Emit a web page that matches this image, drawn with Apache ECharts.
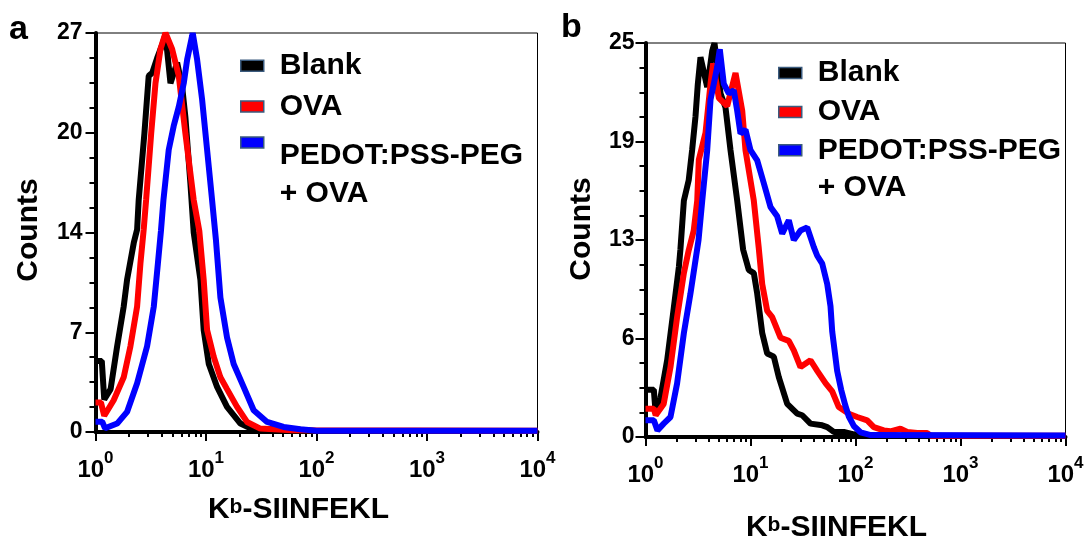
<!DOCTYPE html>
<html><head><meta charset="utf-8">
<script src="https://cdn.jsdelivr.net/npm/echarts@6/dist/echarts.min.js"></script>
<style>html,body{margin:0;padding:0;background:#fff}#c{width:1086px;height:542px}</style>
</head><body><div id="c"></div>
<script>
// ---------- data ----------
const seriesNames = ['Blank', 'OVA', 'PEDOT:PSS-PEG\n+ OVA'];
const seriesColors = ['#000000', '#ff0000', '#0000ff'];

// Panel a: [K^b-SIINFEKL intensity, counts]
const blankA = [[1.0,4.8],[1.14,4.8],[1.2,2.2],[1.37,2.9],[1.57,5.8],[1.80,8.5],[1.93,10.3],[2.22,12.8],[2.38,13.7],[2.46,15.7],[2.77,20.2],[3.03,24.1],[3.26,24.3],[3.61,25.3],[4.06,26.3],[4.30,26.9],[4.77,23.6],[5.48,25.0],[6.08,23.4],[6.51,21.3],[7.23,16.8],[7.74,13.5],[8.90,10.3],[9.53,6.9],[10.6,4.6],[12.6,3.05],[15.5,1.7],[20.5,0.57],[27,0.15],[40,0.2],[70,0.15],[100,0.06],[10000,0.06]];
const ovaA = [[1.0,2.0],[1.12,2.0],[1.2,1.1],[1.46,2.15],[1.80,3.7],[2.07,5.8],[2.38,8.5],[2.55,11.4],[2.73,13.7],[2.87,15.7],[3.19,20.2],[3.49,23.6],[3.87,25.9],[4.30,27.0],[4.94,25.9],[5.67,24.1],[6.51,20.2],[7.74,15.7],[8.7,13.6],[9.53,10.3],[10.23,6.9],[11.74,5.1],[13.5,3.7],[15.5,2.9],[19.1,1.7],[23.5,0.68],[31,0.23],[60,0.12],[10000,0.08]];
const pedotA = [[1.0,0.7],[1.15,0.7],[1.22,0.25],[1.57,0.57],[1.93,1.36],[2.38,3.3],[2.93,5.8],[3.37,8.5],[3.67,11.4],[3.91,13.6],[4.12,15.7],[4.6,19.1],[5.1,20.7],[5.67,22.0],[6.29,23.6],[6.75,25.2],[7.49,26.8],[7.58,27.0],[8.31,25.2],[9.22,22.5],[10.23,19.1],[11.35,15.7],[12.3,13.0],[13.5,9.1],[15.5,6.4],[17.8,4.6],[21.9,3.05],[27.0,1.47],[35.7,0.68],[50.4,0.34],[71.4,0.18],[100,0.08],[10000,0.08]];

// Panel b
const blankB = [[1.0,3.0],[1.2,3.0],[1.25,1.5],[1.39,2.5],[1.61,4.9],[1.86,8.2],[2.08,10.8],[2.15,11.9],[2.32,15.0],[2.58,16.3],[2.78,18.2],[2.99,20.3],[3.15,22.4],[3.34,24.1],[3.47,24.2],[3.87,22.2],[4.32,24.5],[4.54,25.0],[5.18,21.8],[5.78,20.9],[6.45,18.2],[7.47,15.0],[8.5,11.9],[9.63,10.6],[10.75,10.4],[11.58,9.1],[12.93,6.6],[14.42,5.3],[16.67,5.1],[18.6,3.8],[22.37,2.1],[27.85,1.48],[31.08,1.38],[37.27,0.85],[48.2,0.74],[53.8,0.63],[62.1,0.32],[77.4,0.32],[96.3,0.17],[130,0.06],[10000,0.06]];
const ovaB = [[1.0,1.8],[1.2,1.8],[1.25,1.38],[1.49,2.1],[1.73,4.44],[2.0,7.6],[2.32,10.4],[2.58,11.85],[2.88,13.1],[3.11,15.0],[3.22,17.6],[3.73,19.3],[4.16,22.4],[4.41,23.7],[5.0,21.5],[6.0,21.0],[7.2,23.1],[8.34,20.7],[8.96,18.2],[10.75,15.0],[12.0,11.95],[12.93,9.7],[14.42,8.0],[16.09,7.6],[19.31,6.3],[23.16,6.1],[25.85,5.5],[29.94,4.44],[37.27,4.87],[43.2,4.2],[52,3.4],[60,2.9],[69.3,1.9],[86.4,1.48],[103.8,1.27],[129.2,1.06],[149.4,0.63],[186,0.42],[215,0.36],[268,0.53],[311,0.32],[387,0.25],[482,0.25],[520,0.08],[10000,0.08]];
const pedotB = [[1.0,1.06],[1.2,1.06],[1.3,0.42],[1.49,0.85],[1.73,1.27],[2.0,3.4],[2.32,6.6],[2.68,9.1],[2.99,11.2],[3.2,12.5],[3.47,15.0],[3.87,18.2],[4.16,21.4],[4.47,22.4],[4.82,23.5],[5.10,24.6],[5.57,22.4],[6.21,21.8],[6.93,22.0],[7.47,20.7],[8.03,19.25],[8.96,19.5],[10.0,18.2],[11.58,17.55],[13.39,16.1],[15.5,14.6],[17.96,14.0],[20.04,12.9],[23.16,13.75],[25.85,12.5],[29.94,13.1],[34.67,13.3],[40.09,12.05],[43.2,11.5],[48.2,11.0],[53.8,9.7],[57.8,8.3],[60.0,6.7],[66.9,4.2],[73,3.0],[80,2.0],[86.4,1.3],[96.3,0.7],[111.6,0.3],[140,0.12],[10000,0.1]];

// axes
const xRange = [1, 10000];
const yMaxA = 27, yIntervalA = 6.75;
const yMaxB = 25, yIntervalB = 6.25;
// minor ticks of the log axis (log10 of 2..9 in each decade)
const xMinorTicks = [];
for (let d = 0; d < 4; d++) for (let k = 2; k <= 9; k++) xMinorTicks.push(d + Math.log10(k));

// ---------- chart ----------
const FONT = '"Liberation Sans", Arial, sans-serif';
const chart = echarts.init(document.getElementById('c'), null, {renderer: 'canvas'});

const xRich = {
  b: {fontSize: 24, fontWeight: 'bold', fontFamily: FONT, color: '#000', lineHeight: 28},
  s: {fontSize: 17, fontWeight: 'bold', fontFamily: FONT, color: '#000', verticalAlign: 'top', height: 4, lineHeight: 4}
};
const nameRich = {
  k: {fontSize: 30, fontWeight: 'bold', fontFamily: FONT, color: '#000', lineHeight: 36},
  p: {fontSize: 21, fontWeight: 'bold', fontFamily: FONT, color: '#000', verticalAlign: 'top', height: 31, lineHeight: 31}
};

function grid(left, top, width, height) {
  return {left, top, width, height, show: true, borderColor: '#000', borderWidth: 1,
          backgroundColor: 'transparent', containLabel: false, outerBoundsMode: 'none'};
}
function mainX(gi, gap, padR) {
  return {
    type: 'log', logBase: 10, gridIndex: gi, min: xRange[0], max: xRange[1], position: 'bottom',
    axisLine: {show: true, lineStyle: {color: '#000', width: 4}},
    axisTick: {show: true, length: 9, lineStyle: {color: '#000', width: 2}},
    axisLabel: {show: true, interval: 0, margin: 24, hideOverlap: false, showMinLabel: true, showMaxLabel: true,
      formatter: v => '{b|10}{s|' + Math.round(Math.log10(v)) + '}', rich: xRich},
    splitLine: {show: false}, minorTick: {show: false},
    name: '{k|K}{p|b}{k|-SIINFEKL}', nameLocation: 'middle', nameGap: gap, nameMoveOverlap: false,
    nameTextStyle: {rich: nameRich, padding: [0, padR, 0, 0]}
  };
}
function minorX(gi) {
  return {
    type: 'value', gridIndex: gi, min: 0, max: 4, position: 'bottom',
    axisLine: {show: false}, axisLabel: {show: false}, splitLine: {show: false},
    axisTick: {show: true, customValues: xMinorTicks, length: 5, lineStyle: {color: '#000', width: 2}}
  };
}
function yAx(gi, max, interval, margin, gap, padL) {
  return {
    type: 'value', gridIndex: gi, min: 0, max, interval,
    axisLine: {show: true, lineStyle: {color: '#000', width: 4}},
    axisTick: {show: true, length: 10, lineStyle: {color: '#000', width: 2}},
    minorTick: {show: true, splitNumber: 4, length: 6, lineStyle: {color: '#000', width: 2}},
    axisLabel: {show: true, margin, formatter: v => String(Math.round(v)),
      fontSize: 23, fontWeight: 'bold', fontFamily: FONT, color: '#000'},
    splitLine: {show: false}, minorSplitLine: {show: false},
    name: 'Counts', nameLocation: 'middle', nameGap: gap, nameMoveOverlap: false,
    nameTextStyle: {fontSize: 30, fontWeight: 'bold', fontFamily: FONT, color: '#000', lineHeight: 36, padding: [0, 0, 0, padL]}
  };
}
function line(name, color, data, xi, yi) {
  return {type: 'line', name, data, xAxisIndex: xi, yAxisIndex: yi, showSymbol: false, symbol: 'none',
          lineStyle: {color, width: 6}, itemStyle: {color}, smooth: false, animation: false};
}
// legend: one component per entry so each can sit where the reference puts it.
// topLine: height of an empty first line that pushes a two-line label down relative to its swatch.
function legendItem(left, top, name, lh, topLine) {
  const t = {fontSize: 30, fontWeight: 'bold', fontFamily: FONT, color: '#000', lineHeight: lh};
  return {
    left, top, orient: 'vertical', padding: 0, itemWidth: 23, itemHeight: 11, icon: 'rect', selectedMode: false,
    itemStyle: {borderColor: '#3b5b7e', borderWidth: 1.5},
    textStyle: Object.assign({padding: [0, 0, 0, 11], rich: {
      t: t,
      e: {fontSize: 8, lineHeight: topLine || 0, height: topLine || 0}
    }}, t),
    formatter: n => (topLine ? '{e| }\n' : '') + n.split('\n').map(s => '{t|' + s + '}').join('\n'),
    data: [{name}]
  };
}

const option = {
  animation: false,
  backgroundColor: '#fff',
  title: [
    {text: 'a', left: 9, top: 12.7, padding: 0, textStyle: {fontSize: 34, fontWeight: 'bold', fontFamily: FONT, color: '#000', lineHeight: 34}},
    {text: 'b', left: 561, top: 11, padding: 0, textStyle: {fontSize: 34, fontWeight: 'bold', fontFamily: FONT, color: '#000', lineHeight: 34}}
  ],
  grid: [grid(95.5, 33, 442, 399), grid(645.5, 43, 420, 394)],
  xAxis: [mainX(0, 60, 36), minorX(0), mainX(1, 72.6, 38), minorX(1)],
  yAxis: [yAx(0, yMaxA, yIntervalA, 13, 48.7, 5), yAx(1, yMaxB, yIntervalB, 11, 46, 22)],
  legend: [
    legendItem(240, 46.8, seriesNames[0], 38),
    legendItem(240, 87.5, seriesNames[1], 38),
    legendItem(240, 72.2, seriesNames[2], 38, 64.6),
    legendItem(778, 54.5, seriesNames[0], 37),
    legendItem(778, 93.5, seriesNames[1], 37),
    legendItem(778, 94.3, seriesNames[2], 37, 38)
  ],
  series: [
    line(seriesNames[0], seriesColors[0], blankA, 0, 0),
    line(seriesNames[1], seriesColors[1], ovaA, 0, 0),
    line(seriesNames[2], seriesColors[2], pedotA, 0, 0),
    line(seriesNames[0], seriesColors[0], blankB, 2, 1),
    line(seriesNames[1], seriesColors[1], ovaB, 2, 1),
    line(seriesNames[2], seriesColors[2], pedotB, 2, 1)
  ]
};
chart.setOption(option);
</script></body></html>
